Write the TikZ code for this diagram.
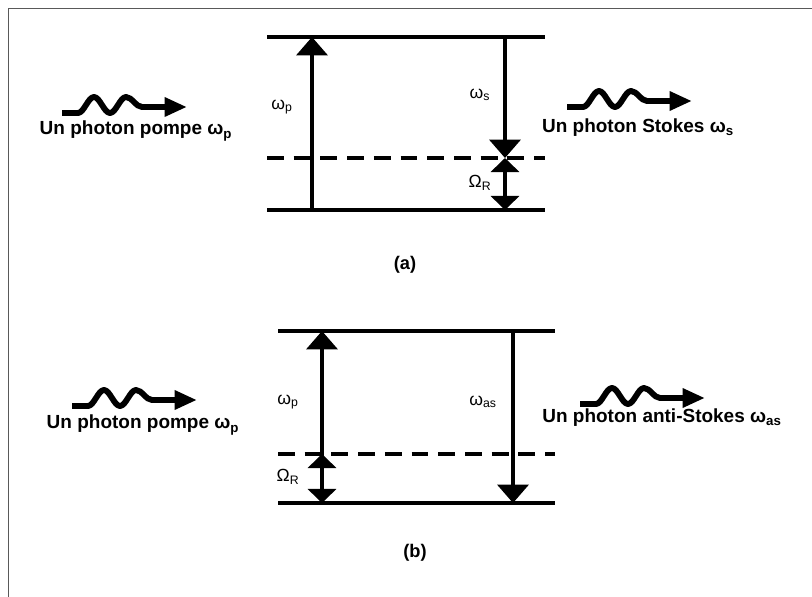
\documentclass[tikz,border=0pt]{standalone}
\usepackage{fontspec}
\setmainfont{Liberation Sans}
\usetikzlibrary{arrows.meta}

\begin{document}
\begin{tikzpicture}[
    x=0.025cm, y=-0.025cm, % One unit per pixel, y pointing down
    level/.style={line width=2.4pt}, % Real energy levels
    virtual/.style={level, dash pattern=on 12pt off 7pt}, % Virtual level
    trans/.style={line width=2.4pt, -{Triangle[length=13pt, width=22pt]}}, % Single transition
    raman/.style={line width=2.4pt,
     {Triangle[length=10pt, width=20pt]}-{Triangle[length=10pt, width=20pt]}}, % Raman shift
    freq/.style={font=\fontsize{12.5}{14}\selectfont}, % Small frequency labels
    photontext/.style={font=\fontsize{13.5}{16}\selectfont\bfseries}, % Photon captions
    caption/.style={font=\fontsize{13}{15}\selectfont\bfseries}, % (a), (b)
    photon/.pic={
        \draw[line width=4.2pt, line join=round,
         -{Triangle[length=16pt, width=13pt]}]
        (0,0) -- ++(16,0)
        cos ++(8,-8) sin ++(8,-8) cos ++(8,8) sin ++(8,8)
        cos ++(8,-8) sin ++(8,-8) cos ++(8,5) sin ++(8,5)
        -- ++(45,0);
    }
]

    \useasboundingbox (0,0) rectangle (812,597);

    % Frame on the top and left edges
    \draw[gray!70!black, line width=0.7pt] (8,597) -- (8,8) -- (812,8);

    % ---------------- (a) Stokes ----------------
    \coordinate (a-tl) at (267,37);  \coordinate (a-tr) at (545,37);
    \coordinate (a-ml) at (267,158); \coordinate (a-mr) at (545,158);
    \coordinate (a-bl) at (267,210); \coordinate (a-br) at (545,210);

    \draw[level] (a-tl) -- (a-tr);
    \draw[virtual] (a-ml) -- (a-mr);
    \draw[level] (a-bl) -- (a-br);

    \coordinate (pa-bot) at (312,210); \coordinate (pa-top) at (312,37);
    \coordinate (sa-top) at (505,37);  \coordinate (sa-mid) at (505,158);
    \coordinate (sa-bot) at (505,210);

    \draw[trans] (pa-bot) -- (pa-top); % pump
    \draw[trans] (sa-top) -- (sa-mid); % Stokes
    \draw[raman] (sa-mid) -- (sa-bot); % Raman shift

    \node[freq] (wpa) at (282,107) {ω\textsubscript{p}};
    \node[freq] (wsa) at (480,95) {ω\textsubscript{s}};
    \node[freq] (ora) at (480,183) {Ω\textsubscript{R}};

    % incoming and outgoing photons
    \pic at (62,113) {photon};
    \node[photontext] (inpa) at (136,131) {Un photon pompe ω\textsubscript{p}};
    \pic at (567,107) {photon};
    \node[photontext] (outsa) at (638,128) {Un photon Stokes ω\textsubscript{s}};

    \node[caption] (capa) at (405,265) {(a)};

    % ---------------- (b) anti-Stokes ----------------
    \coordinate (b-tl) at (278,331); \coordinate (b-tr) at (555,331);
    \coordinate (b-ml) at (278,454); \coordinate (b-mr) at (555,454);
    \coordinate (b-bl) at (278,503); \coordinate (b-br) at (555,503);

    \draw[level] (b-tl) -- (b-tr);
    \draw[virtual] (b-ml) -- (b-mr);
    \draw[level] (b-bl) -- (b-br);

    \coordinate (pb-bot) at (322,503); \coordinate (pb-top) at (322,331);
    \coordinate (pb-mid) at (322,454);
    \coordinate (ab-top) at (513,331); \coordinate (ab-bot) at (513,503);

    \draw[trans] (pb-bot) -- (pb-top); % pump
    \draw[raman] (pb-mid) -- (pb-bot); % Raman shift
    \draw[trans] (ab-top) -- (ab-bot); % anti-Stokes

    \node[freq] (wpb) at (288,402) {ω\textsubscript{p}};
    \node[freq] (wab) at (483,402) {ω\textsubscript{as}};
    \node[freq] (orb) at (288,477) {Ω\textsubscript{R}};

    \pic at (72,406) {photon};
    \node[photontext] (inpb) at (143,425) {Un photon pompe ω\textsubscript{p}};
    \pic at (580,404) {photon};
    \node[photontext] (outab) at (662,418) {Un photon anti-Stokes ω\textsubscript{as}};

    \node[caption] (capb) at (415,553) {(b)};

\end{tikzpicture}
\end{document}
